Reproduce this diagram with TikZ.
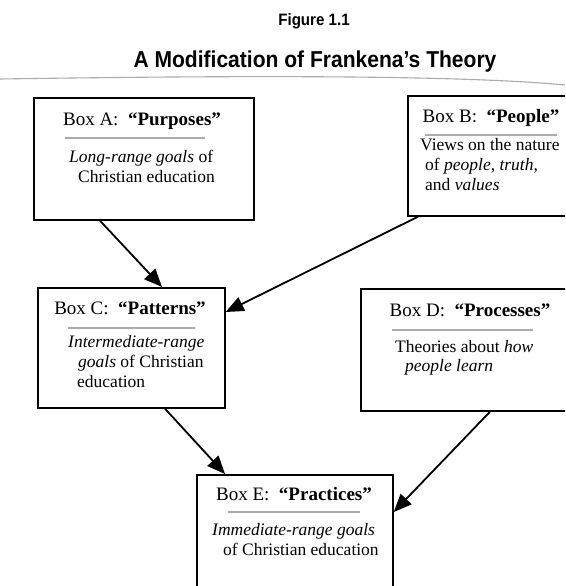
\documentclass[tikz,border=0pt]{standalone}
\usepackage{fontspec}
\setmainfont{Liberation Serif}
\newfontfamily\figsans[FakeStretch=0.915]{Liberation Sans}
\usetikzlibrary{arrows.meta}
\begin{document}
\begin{tikzpicture}[x=1pt,y=-1pt,
  panel/.style={draw=black, line width=1.7pt, inner sep=0pt, anchor=north west},
  link/.style={line width=1.8pt, -{Triangle[length=18pt,width=15pt]}},
  head/.style={anchor=base, inner sep=0pt, font=\fontsize{19}{22}\selectfont},
  body/.style={anchor=base west, inner sep=0pt, font=\fontsize{17.5}{20}\selectfont},
  rule/.style={draw=gray!65, line width=1.1pt},
  caption/.style={anchor=base, inner sep=0pt, text=black}
]
\useasboundingbox (0,0) rectangle (565,586);
\clip (0,0) rectangle (565,586);
\fill[white] (0,0) rectangle (565,586);

% heading
\node[caption, font=\figsans\bfseries\fontsize{16.5}{18}\selectfont] (fig) at (314,26) {Figure 1.1};
\node[caption, font=\figsans\bfseries\fontsize{23}{26}\selectfont] (title) at (315,67) {A Modification of Frankena’s Theory};
\draw[rule] (0,79) .. controls (200,76) and (450,74) .. (565,85);

% the five boxes
\node[panel, minimum width=220pt, minimum height=122pt] (A) at (33,97) {};
\node[panel, minimum width=200pt, minimum height=120pt] (B) at (407,95) {};
\node[panel, minimum width=187pt, minimum height=120pt] (C) at (37,287) {};
\node[panel, minimum width=240pt, minimum height=122pt] (D) at (360,288) {};
\node[panel, minimum width=196pt, minimum height=150pt] (E) at (196,474) {};

% Box A
\node[head] (Ah) at (142,125) {Box A:~ \textbf{“Purposes”}};
\draw[rule] (65,138) -- (205,138);
\node[body] (A1) at (69,162) {\textit{Long-range goals} of};
\node[body] (A2) at (78,182) {Christian education};

% Box B
\node[head] (Bh) at (491,122) {Box B:~ \textbf{“People”}};
\draw[rule] (425,135) -- (557,135);
\node[body] (B1) at (420,150) {Views on the nature};
\node[body] (B2) at (425,170) {of \textit{people}, \textit{truth},};
\node[body] (B3) at (425,190) {and \textit{values}};

% Box C
\node[head] (Ch) at (130,314) {Box C:~ \textbf{“Patterns”}};
\draw[rule] (68,328) -- (195,328);
\node[body] (C1) at (68,347) {\textit{Intermediate-range}};
\node[body] (C2) at (78,367) {\textit{goals} of Christian};
\node[body] (C3) at (77,387) {education};

% Box D
\node[head] (Dh) at (470,316) {Box D:~ \textbf{“Processes”}};
\draw[rule] (392,330) -- (533,330);
\node[body] (D1) at (395,352) {Theories about \textit{how}};
\node[body] (D2) at (405,371) {\textit{people learn}};

% Box E
\node[head] (Eh) at (294,500) {Box E:~ \textbf{“Practices”}};
\draw[rule] (228,512) -- (360,512);
\node[body] (E1) at (212,535) {\textit{Immediate-range goals}};
\node[body] (E2) at (223,555) {of Christian education};

% connectors
\draw[link] ([xshift=67pt]A.south west) -- ([xshift=125pt]C.north west);
\draw[link] ([xshift=11pt]B.south west) -- ([yshift=-25pt]C.north east);
\draw[link] ([xshift=128pt]C.south west) -- ([xshift=29pt]E.north west);
\draw[link] ([xshift=130pt]D.south west) -- ([yshift=-38pt]E.north east);
\end{tikzpicture}
\end{document}
